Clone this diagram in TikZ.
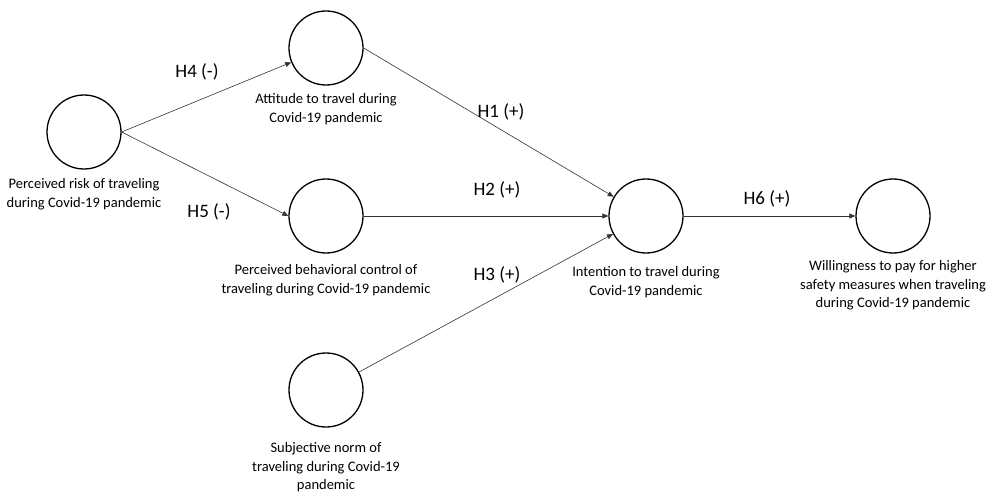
\documentclass[tikz,border=0pt]{standalone}
\usepackage{fontspec}
\setmainfont{Carlito}
\usetikzlibrary{arrows.meta, positioning}
\tikzset{
  latent/.style = {circle, draw=black, line width=1.3pt, minimum size=74pt, inner sep=0pt},
  lbl/.style    = {align=center, font=\fontsize{14.5}{18.5}\selectfont, inner sep=1pt},
  hyp/.style    = {font=\fontsize{19}{21}\selectfont, inner sep=1pt},
  path/.style   = {-{Triangle[length=6pt, width=5pt]}, line width=0.6pt, color=black!80},
}

\begin{document}
\begin{tikzpicture}[x=1pt, y=-1pt]
  \useasboundingbox (0,0) rectangle (998,497);
  % constructs
  \node[latent] (risk) at (84,132) {};
  \node[latent] (att)  at (326,48) {};
  \node[latent] (pbc)  at (326,216) {};
  \node[latent] (sn)   at (326,390) {};
  \node[latent] (int)  at (646,216) {};
  \node[latent] (wtp)  at (893,216) {};
  % construct labels
  \node[lbl, below=8pt of risk] {Perceived risk of traveling\\during Covid-19 pandemic};
  \node[lbl, below=7pt of att]  {Attitude to travel during\\Covid-19 pandemic};
  \node[lbl, below=10pt of pbc] {Perceived behavioral control of\\traveling during Covid-19 pandemic};
  \node[lbl, below=14pt of sn]  {Subjective norm of\\traveling during Covid-19\\pandemic};
  \node[lbl, below=12pt of int] {Intention to travel during\\Covid-19 pandemic};
  \node[lbl, below=6pt of wtp]  {Willingness to pay for higher\\safety measures when traveling\\during Covid-19 pandemic};
  % hypothesised paths
  \draw[path] (risk.east) -- (att);
  \draw[path] (risk.east) -- (pbc.west);
  \draw[path] (att.east) -- (int);
  \draw[path] (pbc) -- (int);
  \draw[path] (sn) -- (int);
  \draw[path] (int) -- (wtp);
  % hypothesis labels
  \node[hyp] (h4) at (197,72)  {H4 (-)};
  \node[hyp] (h5) at (209,212) {H5 (-)};
  \node[hyp] (h1) at (501,112) {H1 (+)};
  \node[hyp] (h2) at (497,190) {H2 (+)};
  \node[hyp] (h3) at (497,275) {H3 (+)};
  \node[hyp] (h6) at (767,199) {H6 (+)};
\end{tikzpicture}
\end{document}
